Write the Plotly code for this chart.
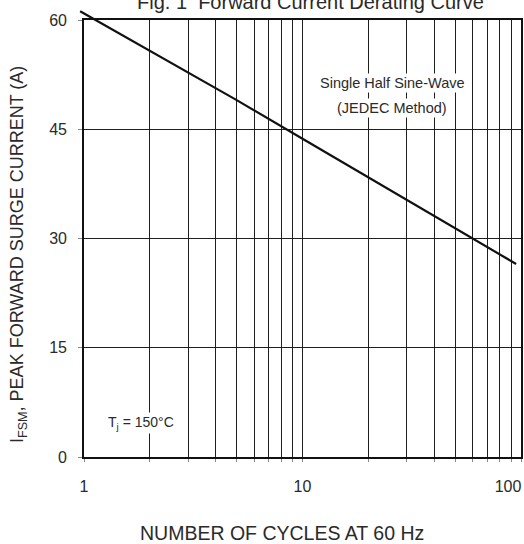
import plotly.graph_objects as go

# ---- data ----
cycles = [0.96, 1, 2, 3, 5, 10, 20, 30, 50, 95]
surge_current = [61.2, 60.9, 55.8, 52.8, 49.0, 43.7, 38.4, 35.2, 31.4, 26.5]

x_grid_vals = [1, 2, 3, 4, 5, 6, 7, 8, 9, 10, 20, 30, 40, 50, 60, 70, 80, 90, 100]
x_grid_text = ["1", "", "", "", "", "", "", "", "", "10", "", "", "", "", "", "", "", "", ""]
x_end_val = [100]
x_end_text = ["100"]
y_tick_vals = [0, 15, 30, 45, 60]
y_tick_text = ["0", "15", "30", "45", "60"]

title_text = "Fig. 1  Forward Current Derating Curve"
x_title = "NUMBER OF CYCLES AT 60 Hz"
y_title = "I<sub>FSM</sub>, PEAK FORWARD SURGE CURRENT (A)"
note1 = "Single Half Sine-Wave"
note2 = "(JEDEC Method)"
note3 = "T<sub>j</sub> = 150\u00b0C"

# ---- layout geometry (pixels) ----
W, H = 524, 544
px_left, px_right = 84, 521
px_top, px_bottom = 20, 457
ext_left, ext_top = 70, 4

def fx(p):
    return p / W

def fy(p):
    return 1 - p / H

dec_px = (px_right - px_left) / 2.0
unit_px = (px_bottom - px_top) / 60.0
x2_min = -(px_left - ext_left) / dec_px
y2_max = 60 + (px_top - ext_top) / unit_px

FONT = "Liberation Sans, Arial, sans-serif"
TXT = "#2a2a2a"
GRID = "#1e1e1e"

fig = go.Figure()

# invisible traces to establish the grid axes
fig.add_trace(go.Scatter(x=[1, 100], y=[0, 60], mode="markers",
                         marker=dict(opacity=0), hoverinfo="skip",
                         showlegend=False, xaxis="x", yaxis="y"))
fig.add_trace(go.Scatter(x=[1, 100], y=[0, 60], mode="markers",
                         marker=dict(opacity=0), hoverinfo="skip",
                         showlegend=False, xaxis="x3", yaxis="y"))

# the derating curve on an overlapping, slightly larger subplot so it can exceed the frame
fig.add_trace(go.Scatter(x=cycles, y=surge_current, mode="lines",
                         line=dict(color="#111111", width=2.2),
                         showlegend=False, xaxis="x2", yaxis="y2"))

fig.update_layout(
    width=W, height=H,
    margin=dict(l=0, r=0, t=0, b=0, autoexpand=False),
    paper_bgcolor="white",
    plot_bgcolor="rgba(0,0,0,0)",
    font=dict(family=FONT, color=TXT, size=16),
    xaxis=dict(
        type="log", range=[0, 2], domain=[fx(px_left), fx(px_right)],
        tickvals=x_grid_vals, ticktext=x_grid_text,
        showgrid=True, gridcolor=GRID, gridwidth=1.4,
        showline=True, linecolor="#111111", linewidth=1.6, mirror=True,
        ticks="outside", ticklen=3, tickcolor="#888888", tickwidth=1,
        ticklabelstandoff=11, tickfont=dict(size=16, color=TXT),
        zeroline=False, anchor="y", automargin=False,
    ),
    xaxis3=dict(
        type="log", range=[0, 2], overlaying="x", side="bottom", anchor="y",
        tickvals=x_end_val, ticktext=x_end_text, ticklabelshift=-13,
        ticklabelstandoff=18, ticks="", showgrid=False, showline=False,
        zeroline=False, tickfont=dict(size=16, color=TXT), automargin=False,
    ),
    yaxis=dict(
        range=[0, 60], domain=[fy(px_bottom), fy(px_top)],
        tickvals=y_tick_vals, ticktext=y_tick_text,
        showgrid=True, gridcolor=GRID, gridwidth=1.4,
        showline=True, linecolor="#111111", linewidth=1.6, mirror=True,
        ticks="outside", ticklen=4, tickcolor="#888888", tickwidth=1,
        ticklabelstandoff=8, tickfont=dict(size=16, color=TXT),
        zeroline=False, anchor="x", automargin=False,
    ),
    xaxis2=dict(type="log", range=[x2_min, 2], domain=[fx(ext_left), fx(px_right)],
                visible=False, anchor="y2", automargin=False),
    yaxis2=dict(range=[0, y2_max], domain=[fy(px_bottom), fy(ext_top)],
                visible=False, anchor="x2", automargin=False),
    annotations=[
        dict(text=title_text, xref="paper", yref="paper", x=fx(310), y=fy(15),
             xanchor="center", yanchor="bottom", showarrow=False,
             font=dict(size=20, color=TXT)),
        dict(text=x_title, xref="paper", yref="paper", x=fx(282), y=fy(533),
             xanchor="center", yanchor="middle", showarrow=False,
             font=dict(size=19.5, color=TXT)),
        dict(text=y_title, xref="paper", yref="paper", x=fx(18), y=fy(255),
             xanchor="center", yanchor="middle", showarrow=False, textangle=-90,
             font=dict(size=18, color=TXT)),
        dict(text=note1, xref="paper", yref="paper", x=fx(392), y=fy(83),
             xanchor="center", yanchor="middle", showarrow=False,
             font=dict(size=14.5, color=TXT), bgcolor="white"),
        dict(text=note2, xref="paper", yref="paper", x=fx(392), y=fy(108),
             xanchor="center", yanchor="middle", showarrow=False,
             font=dict(size=14.5, color=TXT), bgcolor="white"),
        dict(text=note3, xref="paper", yref="paper", x=fx(141), y=fy(423),
             xanchor="center", yanchor="middle", showarrow=False,
             font=dict(size=14, color=TXT), bgcolor="white"),
    ],
)

fig.write_html("out.html")
